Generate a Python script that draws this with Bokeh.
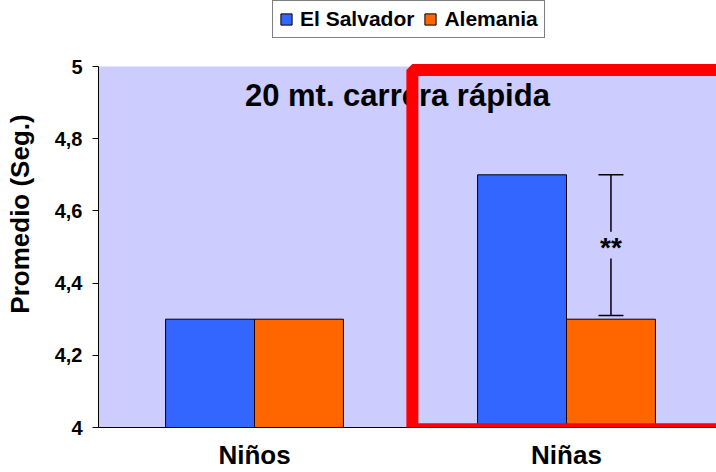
from bokeh.plotting import figure
from bokeh.models import (ColumnDataSource, Range1d, FixedTicker, CustomJSTickFormatter,
                          Legend, LegendItem, BoxAnnotation, Label)
from bokeh.core.properties import value
from bokeh.embed import file_html
from bokeh.resources import INLINE

categories = ["Niños", "Niñas"]
el_salvador = [4.3, 4.7]
alemania = [4.3, 4.3]
series_names = ["El Salvador", "Alemania"]
y_ticks = [4.0, 4.2, 4.4, 4.6, 4.8, 5.0]
y_min, y_max = 4.0, 5.0
sig_category = 1
sig_low = 4.31
sig_high = 4.70
sig_text = "**"
title_text = "20 mt. carrera rápida"

FONT = "Liberation Sans"
BLUE = "#3366FF"
ORANGE = "#FF6600"
BAR_W = 0.285
OFF = BAR_W / 2

centers = [i + 0.5 for i in range(len(categories))]
src_es = ColumnDataSource(dict(x=[c - OFF for c in centers], top=el_salvador))
src_al = ColumnDataSource(dict(x=[c + OFF for c in centers], top=alemania))

# frame spans the whole height above the x axis; plot area (4..5) drawn as a box
p = figure(width=716, height=472, output_backend="svg", toolbar_location=None,
           x_range=Range1d(0, 618 / 312), y_range=Range1d(y_min, y_max + 66 / 361),
           min_border_left=98, min_border_right=0, min_border_top=0, min_border_bottom=45)
p.background_fill_color = "white"
p.border_fill_color = "white"
p.outline_line_color = None
p.xgrid.grid_line_color = None
p.ygrid.grid_line_color = "white"
p.ygrid.grid_line_width = 1

p.add_layout(BoxAnnotation(bottom=y_min, top=y_max, fill_color="#CCCCFF", fill_alpha=1.0,
                           line_alpha=0, level="underlay"))

r1 = p.vbar(x="x", top="top", bottom=y_min, width=BAR_W, source=src_es,
            fill_color=BLUE, line_color="black", line_width=1)
r2 = p.vbar(x="x", top="top", bottom=y_min, width=BAR_W, source=src_al,
            fill_color=ORANGE, line_color="black", line_width=1)

# significance marker
sx = centers[sig_category] + OFF
mid = (sig_low + sig_high) / 2
gap = 0.037
cap = 0.04
p.segment(x0=[sx, sx], y0=[sig_low, mid + gap], x1=[sx, sx], y1=[mid - gap, sig_high],
          line_color="black", line_width=1.5)
p.segment(x0=[sx - cap, sx - cap], y0=[sig_low, sig_high], x1=[sx + cap, sx + cap],
          y1=[sig_low, sig_high], line_color="black", line_width=1.5)
p.text(x=[sx], y=[mid], text=[sig_text], text_align="center", text_baseline="middle",
       text_font=value(FONT), text_font_size="28px", text_font_style="bold",
       text_color="black", y_offset=2)

# title inside the plot
p.add_layout(Label(x=0.958, y=4.92, text=title_text, text_align="center",
                   text_baseline="middle", text_font=FONT, text_font_size="31px",
                   text_font_style="bold", text_color="black"))

# highlight box
p.add_layout(BoxAnnotation(left=1.006, right=2.1, top=4.990, bottom=3.995,
                           fill_alpha=0, line_color="#FF0000", line_alpha=1.0,
                           line_width=12))

# axes
p.yaxis.ticker = FixedTicker(ticks=y_ticks)
p.yaxis.bounds = (y_min, y_max)
p.yaxis.formatter = CustomJSTickFormatter(code="""
var s = tick.toFixed(1).replace('.', ',');
if (s.endsWith(',0')) { s = s.slice(0, -2); }
return s;""")
p.yaxis.axis_label = "Promedio (Seg.)"
p.yaxis.axis_label_text_font = FONT
p.yaxis.axis_label_text_font_size = "26px"
p.yaxis.axis_label_text_font_style = "bold"
p.yaxis.axis_label_text_color = "black"
p.yaxis.axis_label_standoff = 17
p.yaxis.major_label_text_font = FONT
p.yaxis.major_label_text_font_size = "20px"
p.yaxis.major_label_text_font_style = "bold"
p.yaxis.major_label_text_color = "black"
p.yaxis.major_label_standoff = 10
p.yaxis.major_tick_in = 0
p.yaxis.major_tick_out = 6
p.yaxis.major_tick_line_color = "black"
p.yaxis.minor_tick_line_color = None
p.yaxis.axis_line_color = "black"

p.xaxis.ticker = FixedTicker(ticks=centers)
p.xaxis.formatter = CustomJSTickFormatter(args=dict(cats=categories),
                                          code="return cats[Math.round(tick - 0.5)];")
p.xaxis.major_tick_line_color = None
p.xaxis.minor_tick_line_color = None
p.xaxis.major_label_text_font = FONT
p.xaxis.major_label_text_font_size = "26px"
p.xaxis.major_label_text_font_style = "bold"
p.xaxis.major_label_text_color = "black"
p.xaxis.major_label_standoff = 6
p.xaxis.axis_line_color = "black"

legend = Legend(items=[LegendItem(label=series_names[0], renderers=[r1]),
                       LegendItem(label=series_names[1], renderers=[r2])],
                orientation="horizontal", location=(174, 389),
                label_text_font=FONT, label_text_font_size="21px",
                label_text_font_style="bold", label_text_color="black",
                border_line_color="black", border_line_width=1,
                background_fill_color="white",
                glyph_width=14, glyph_height=14, label_standoff=7, spacing=9,
                padding=6, margin=0)
p.add_layout(legend, "center")

open("out.html", "w").write(file_html(p, INLINE))
